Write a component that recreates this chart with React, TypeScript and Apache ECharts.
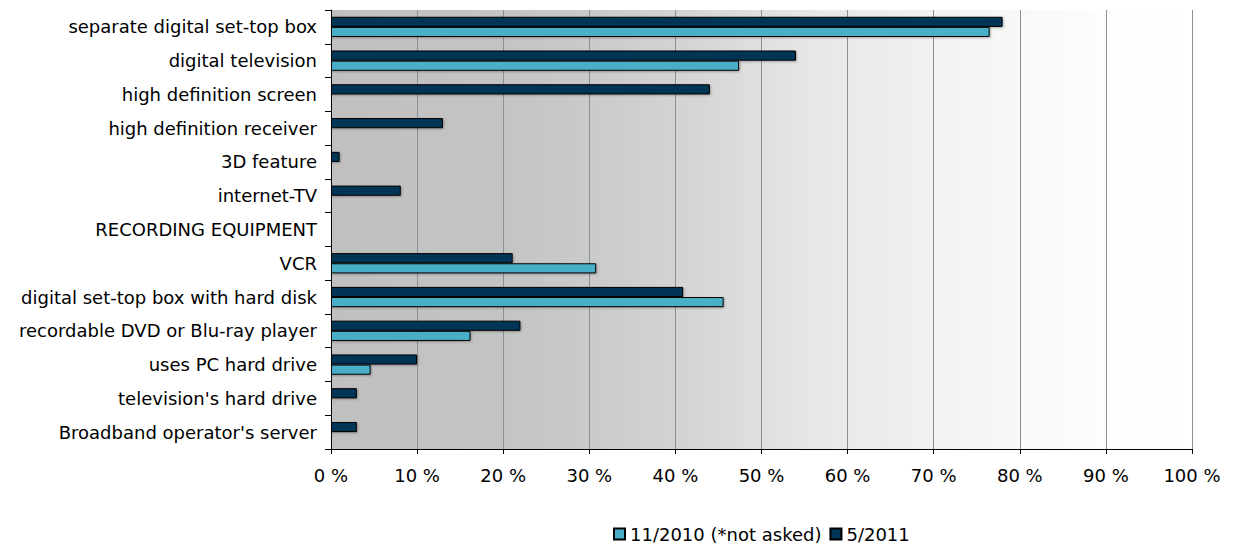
import React, { useEffect, useRef } from "react";
import * as echarts from "echarts";

const categories = [
  "separate digital set-top box",
  "digital television",
  "high definition screen",
  "high definition receiver",
  "3D feature",
  "internet-TV",
  "RECORDING EQUIPMENT",
  "VCR",
  "digital set-top box with hard disk",
  "recordable DVD or Blu-ray player",
  "uses PC hard drive",
  "television's hard drive",
  "Broadband operator's server",
];

const series2010 = [76.5, 47.4, null, null, null, null, null, 30.8, 45.6, 16.2, 4.6, null, null];
const series2011 = [78.0, 54.0, 44.0, 13.0, 1.0, 8.1, null, 21.1, 40.9, 22.0, 10.0, 3.0, 3.0];

const seriesNames = ["11/2010 (*not asked)", "5/2011"];
const xTicks = [0, 10, 20, 30, 40, 50, 60, 70, 80, 90, 100];

const FONT = "'DejaVu Sans', Verdana, sans-serif";
const FS = 18;

export default function App() {
  const ref = useRef<HTMLDivElement>(null);
  useEffect(() => {
    if (!ref.current) return;
    const chart = echarts.init(ref.current, null, { renderer: "svg" });
    const barStyle = (color: string) => ({
      color,
      borderColor: "#000000",
      borderWidth: 1,
      shadowColor: "rgba(0,0,0,0.3)",
      shadowOffsetX: 1,
      shadowOffsetY: 1,
      shadowBlur: 2,
    });
    chart.setOption({
      animation: false,
      textStyle: { fontFamily: FONT },
      legend: {
        data: seriesNames,
        left: 613,
        top: 525,
        itemWidth: 11,
        itemHeight: 11,
        itemGap: 8,
        icon: "rect",
        padding: 0,
        textStyle: { fontFamily: FONT, fontSize: FS, color: "#000" },
      },
      grid: {
        left: 331,
        top: 10,
        width: 861,
        height: 439,
        show: true,
        borderWidth: 0,
        backgroundColor: {
          type: "linear",
          x: 0,
          y: 0,
          x2: 1,
          y2: 0,
          colorStops: [
            { offset: 0, color: "#c0c0c0" },
            { offset: 0.2, color: "#c4c4c4" },
            { offset: 0.3, color: "#cacaca" },
            { offset: 0.43, color: "#d6d6d6" },
            { offset: 0.55, color: "#e6e6e6" },
            { offset: 0.78, color: "#f7f7f7" },
            { offset: 0.9, color: "#fdfdfd" },
            { offset: 1, color: "#ffffff" },
          ],
        },
      },
      xAxis: {
        type: "value",
        min: 0,
        max: 100,
        interval: 10,
        axisLine: { show: true, lineStyle: { color: "#000", width: 1 } },
        axisTick: { show: true, length: 5, lineStyle: { color: "#000" } },
        splitLine: { show: true, lineStyle: { color: "#8a8f9a", width: 1 } },
        axisLabel: {
          margin: 17,
          fontSize: FS,
          color: "#000",
          fontFamily: FONT,
          formatter: (v: number) => (xTicks.includes(v) ? `${v} %` : ""),
        },
      },
      yAxis: {
        type: "category",
        data: categories,
        inverse: true,
        axisLine: { show: true, lineStyle: { color: "#000", width: 1 } },
        axisTick: { show: true, length: 6, lineStyle: { color: "#000" } },
        axisLabel: { margin: 14, fontSize: FS, color: "#000", fontFamily: FONT },
      },
      series: [
        {
          name: seriesNames[1],
          type: "bar",
          data: series2011,
          barGap: "0%",
          barCategoryGap: "40%",
          itemStyle: barStyle("#003555"),
        },
        {
          name: seriesNames[0],
          type: "bar",
          data: series2010,
          barGap: "0%",
          barCategoryGap: "40%",
          itemStyle: barStyle("#4aaec8"),
        },
      ],
    });
    return () => chart.dispose();
  }, []);
  return (
    <div
      ref={ref}
      style={{ position: "absolute", left: 0, top: 0, width: 1236, height: 544 }}
    />
  );
}
